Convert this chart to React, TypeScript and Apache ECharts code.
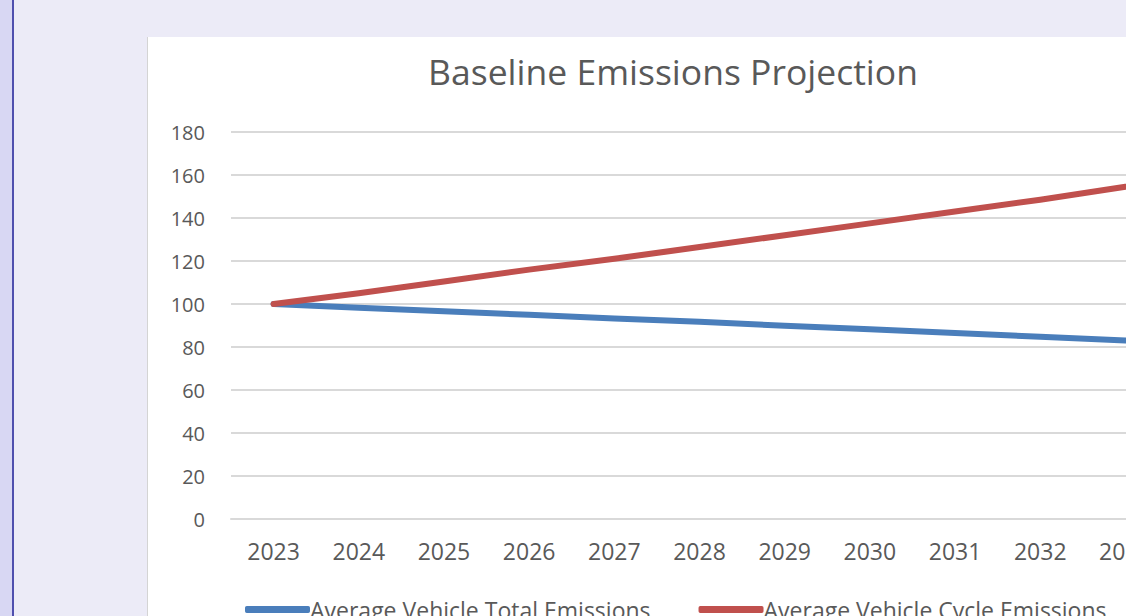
import React, { useEffect, useRef } from "react";
import * as echarts from "echarts";

const years = ["2023", "2024", "2025", "2026", "2027", "2028", "2029", "2030", "2031", "2032", "2033"];
const totalEmissions = [100, 98.3, 96.6, 95, 93.2, 91.7, 89.9, 88.2, 86.5, 84.8, 83];
const cycleEmissions = [100, 105, 110.5, 116, 121, 126.5, 132, 137.5, 143, 148.5, 154.5];
const yTicks = { min: 0, max: 180, interval: 20 };

const FONT = "'Open Sans', Lato, sans-serif";

export default function App() {
  const ref = useRef<HTMLDivElement>(null);
  useEffect(() => {
    if (!ref.current) return;
    const chart = echarts.init(ref.current, undefined, { renderer: "svg" });
    chart.setOption({
      animation: false,
      backgroundColor: "#ffffff",
      title: {
        text: "Baseline Emissions Projection",
        left: "center",
        top: 11,
        textStyle: { fontFamily: FONT, fontSize: 35.5, fontWeight: "normal", color: "#595959" },
      },
      grid: { left: 83, top: 95, height: 387, width: 937 },
      legend: {
        left: 92,
        top: 556,
        itemWidth: 65,
        itemHeight: 7,
        itemGap: 48,
        icon: "roundRect",
        textStyle: { fontFamily: FONT, fontSize: 23, color: "#595959", padding: [0, 0, 0, -5] },
      },
      xAxis: {
        type: "category",
        data: years,
        boundaryGap: true,
        axisLine: { show: true, lineStyle: { color: "#d9d9d9", width: 2 } },
        axisTick: { show: false },
        axisLabel: { fontFamily: FONT, fontSize: 23, color: "#595959", margin: 20 },
      },
      yAxis: {
        type: "value",
        min: yTicks.min,
        max: yTicks.max,
        interval: yTicks.interval,
        axisLine: { show: false },
        axisTick: { show: false },
        splitLine: { lineStyle: { color: "#d9d9d9", width: 2 } },
        axisLabel: { fontFamily: FONT, fontSize: 20, color: "#595959", margin: 26 },
      },
      series: [
        {
          name: "Average Vehicle Total Emissions",
          type: "line",
          data: totalEmissions,
          symbol: "none",
          lineStyle: { color: "#4a7ebb", width: 6, cap: "round", join: "round" },
          itemStyle: { color: "#4a7ebb" },
        },
        {
          name: "Average Vehicle Cycle Emissions",
          type: "line",
          data: cycleEmissions,
          symbol: "none",
          lineStyle: { color: "#c0504d", width: 6, cap: "round", join: "round" },
          itemStyle: { color: "#c0504d" },
        },
      ],
    });
    return () => chart.dispose();
  }, []);

  return (
    <div
      style={{
        position: "fixed",
        left: 0,
        top: 0,
        width: 1126,
        height: 616,
        overflow: "hidden",
        background: "#ecebf7",
      }}
    >
      <div style={{ position: "absolute", left: 0, top: 0, width: 12, height: 616, background: "#d8d7f3" }} />
      <div style={{ position: "absolute", left: 12, top: 0, width: 2, height: 616, background: "#4f4fae" }} />
      <div style={{ position: "absolute", left: 147, top: 37, width: 1, height: 579, background: "#d4d4d4" }} />
      <div ref={ref} style={{ position: "absolute", left: 148, top: 37, width: 1050, height: 579 }} />
    </div>
  );
}
